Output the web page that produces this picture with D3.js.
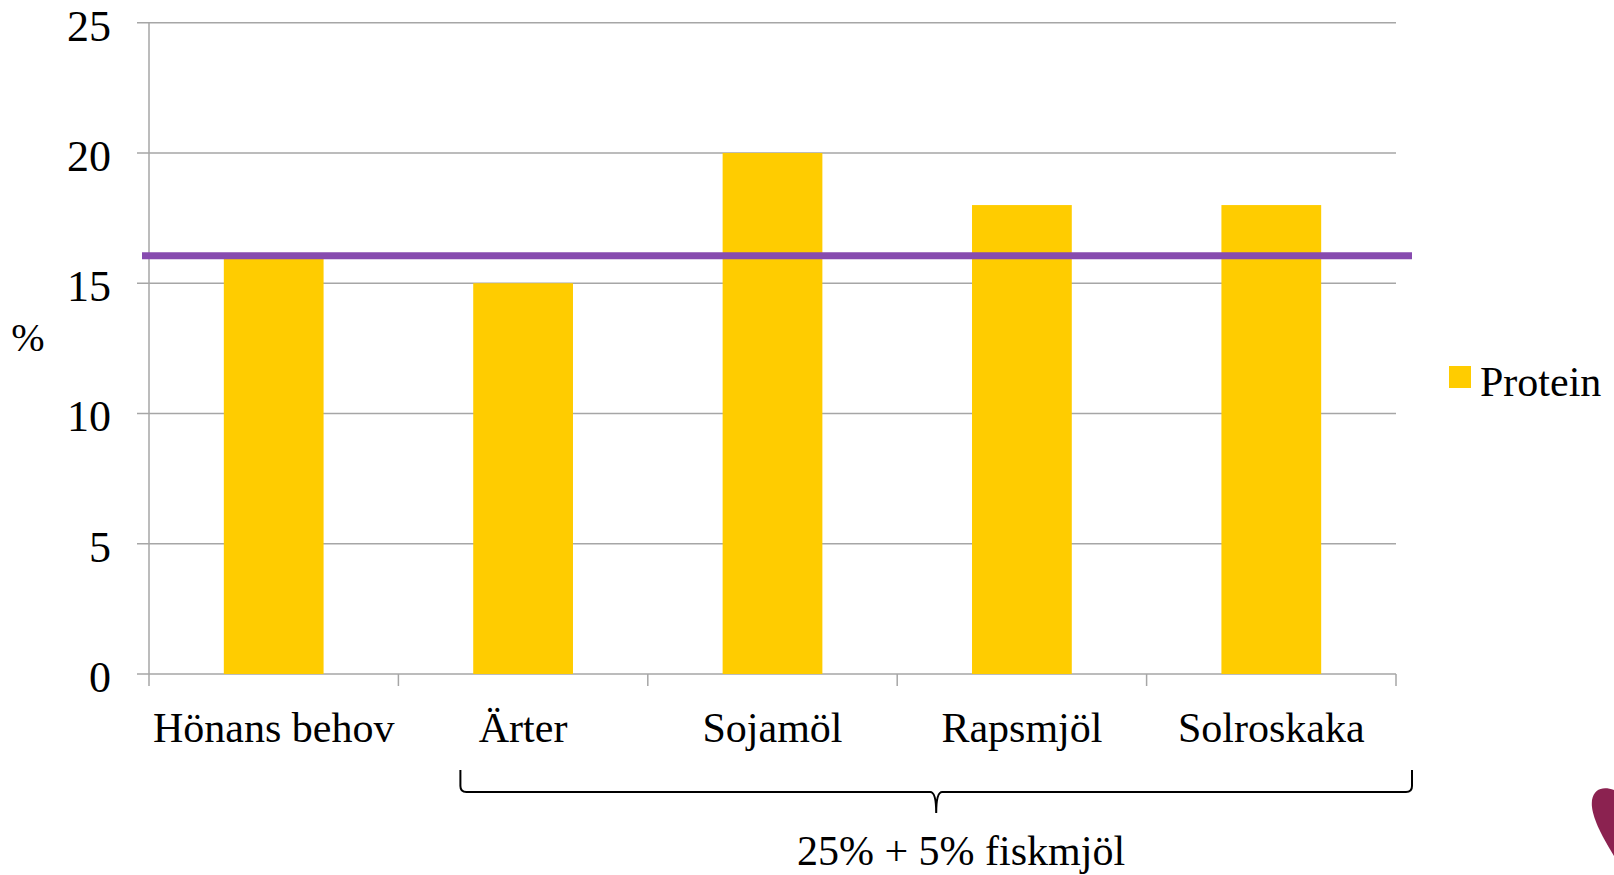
<!DOCTYPE html>
<html>
<head>
<meta charset="utf-8">
<script src="https://cdn.jsdelivr.net/npm/d3@7"></script>
<style>
  html, body { margin: 0; padding: 0; background: #ffffff; }
  svg { display: block; }
  text { font-family: "Liberation Serif", "Times New Roman", serif; fill: #000; }
</style>
</head>
<body>
<svg id="chart" width="1614" height="875"></svg>
<script>
// Protein content per feed mix (%)
const categories = ["Hönans behov", "Ärter", "Sojamöl", "Rapsmjöl", "Solroskaka"];
const proteinValues = [16, 15, 20, 18, 18];
const requirementLevel = 16;          // hen's protein requirement, drawn as a line
const yTicks = [0, 5, 10, 15, 20, 25];
const seriesName = "Protein";
const axisTitle = "%";
const groupLabel = "25% + 5% fiskmjöl";

const W = 1614, H = 875;
const plot = { left: 149, right: 1396, top: 22.7, bottom: 674 };

const svg = d3.select("#chart");

const x = d3.scaleBand()
  .domain(categories)
  .range([plot.left, plot.right])
  .paddingInner(0)
  .paddingOuter(0);

const y = d3.scaleLinear()
  .domain([0, 25])
  .range([plot.bottom, plot.top]);

const barWidth = x.bandwidth() / 2.5;   // gap width 150%
const gridColor = "#a6a6a6";

// horizontal gridlines with left tick stubs
svg.append("g")
  .selectAll("line")
  .data(yTicks)
  .join("line")
  .attr("x1", plot.left - 12)
  .attr("x2", plot.right)
  .attr("y1", d => y(d))
  .attr("y2", d => y(d))
  .attr("stroke", gridColor)
  .attr("stroke-width", 1.5);

// value axis line
svg.append("line")
  .attr("x1", plot.left).attr("x2", plot.left)
  .attr("y1", y(25)).attr("y2", y(0))
  .attr("stroke", gridColor).attr("stroke-width", 1.5);

// category axis tick marks at band boundaries
const boundaries = categories.map(c => x(c)).concat([plot.right]);
svg.append("g")
  .selectAll("line")
  .data(boundaries)
  .join("line")
  .attr("x1", d => d).attr("x2", d => d)
  .attr("y1", y(0)).attr("y2", y(0) + 12)
  .attr("stroke", gridColor).attr("stroke-width", 1.5);

// y tick labels
svg.append("g")
  .selectAll("text")
  .data(yTicks)
  .join("text")
  .attr("x", plot.left - 38)
  .attr("y", d => y(d) + 18)
  .attr("text-anchor", "end")
  .attr("font-size", 44)
  .text(d => d);

// axis title
svg.append("text")
  .attr("x", 28)
  .attr("y", 351)
  .attr("text-anchor", "middle")
  .attr("font-size", 40)
  .text(axisTitle);

// bars
svg.append("g")
  .selectAll("rect")
  .data(proteinValues)
  .join("rect")
  .attr("x", (d, i) => x(categories[i]) + (x.bandwidth() - barWidth) / 2)
  .attr("width", barWidth)
  .attr("y", d => y(d))
  .attr("height", d => y(0) - y(d))
  .attr("fill", "#ffcc00");

// requirement line
svg.append("line")
  .attr("x1", plot.left - 7)
  .attr("x2", plot.right + 16)
  .attr("y1", y(requirementLevel) - 1.5)
  .attr("y2", y(requirementLevel) - 1.5)
  .attr("stroke", "#874baf")
  .attr("stroke-width", 7);

// category labels
svg.append("g")
  .selectAll("text")
  .data(categories)
  .join("text")
  .attr("x", d => x(d) + x.bandwidth() / 2)
  .attr("y", y(0) + 68)
  .attr("text-anchor", "middle")
  .attr("font-size", 42)
  .text(d => d);

// legend
const legend = svg.append("g");
legend.append("rect")
  .attr("x", 1449).attr("y", 366)
  .attr("width", 22).attr("height", 22)
  .attr("fill", "#ffcc00");
legend.append("text")
  .attr("x", 1480).attr("y", 396)
  .attr("font-size", 42)
  .text(seriesName);

// brace grouping the four feed mixes
const bL = x(categories[1]) + 62, bR = plot.right + 16;
const bTop = 770, bMid = 792, bTip = 813;
const bC = (bL + bR) / 2;
const r = 6;
const brace = d3.path();
brace.moveTo(bL, bTop);
brace.lineTo(bL, bMid - r);
brace.quadraticCurveTo(bL, bMid, bL + r, bMid);
brace.lineTo(bC - r, bMid);
brace.quadraticCurveTo(bC, bMid, bC, bTip);
brace.quadraticCurveTo(bC, bMid, bC + r, bMid);
brace.lineTo(bR - r, bMid);
brace.quadraticCurveTo(bR, bMid, bR, bMid - r);
brace.lineTo(bR, bTop);
svg.append("path")
  .attr("d", brace.toString())
  .attr("fill", "none")
  .attr("stroke", "#000")
  .attr("stroke-width", 2);

svg.append("text")
  .attr("x", 961)
  .attr("y", 865)
  .attr("text-anchor", "middle")
  .attr("font-size", 42)
  .text(groupLabel);

// corner logo fragment
svg.append("path")
  .attr("d", "M1614,790 C1604,786 1594,788 1592,800 C1590,815 1602,836 1614,856 Z")
  .attr("fill", "#8b2250");
</script>
</body>
</html>
